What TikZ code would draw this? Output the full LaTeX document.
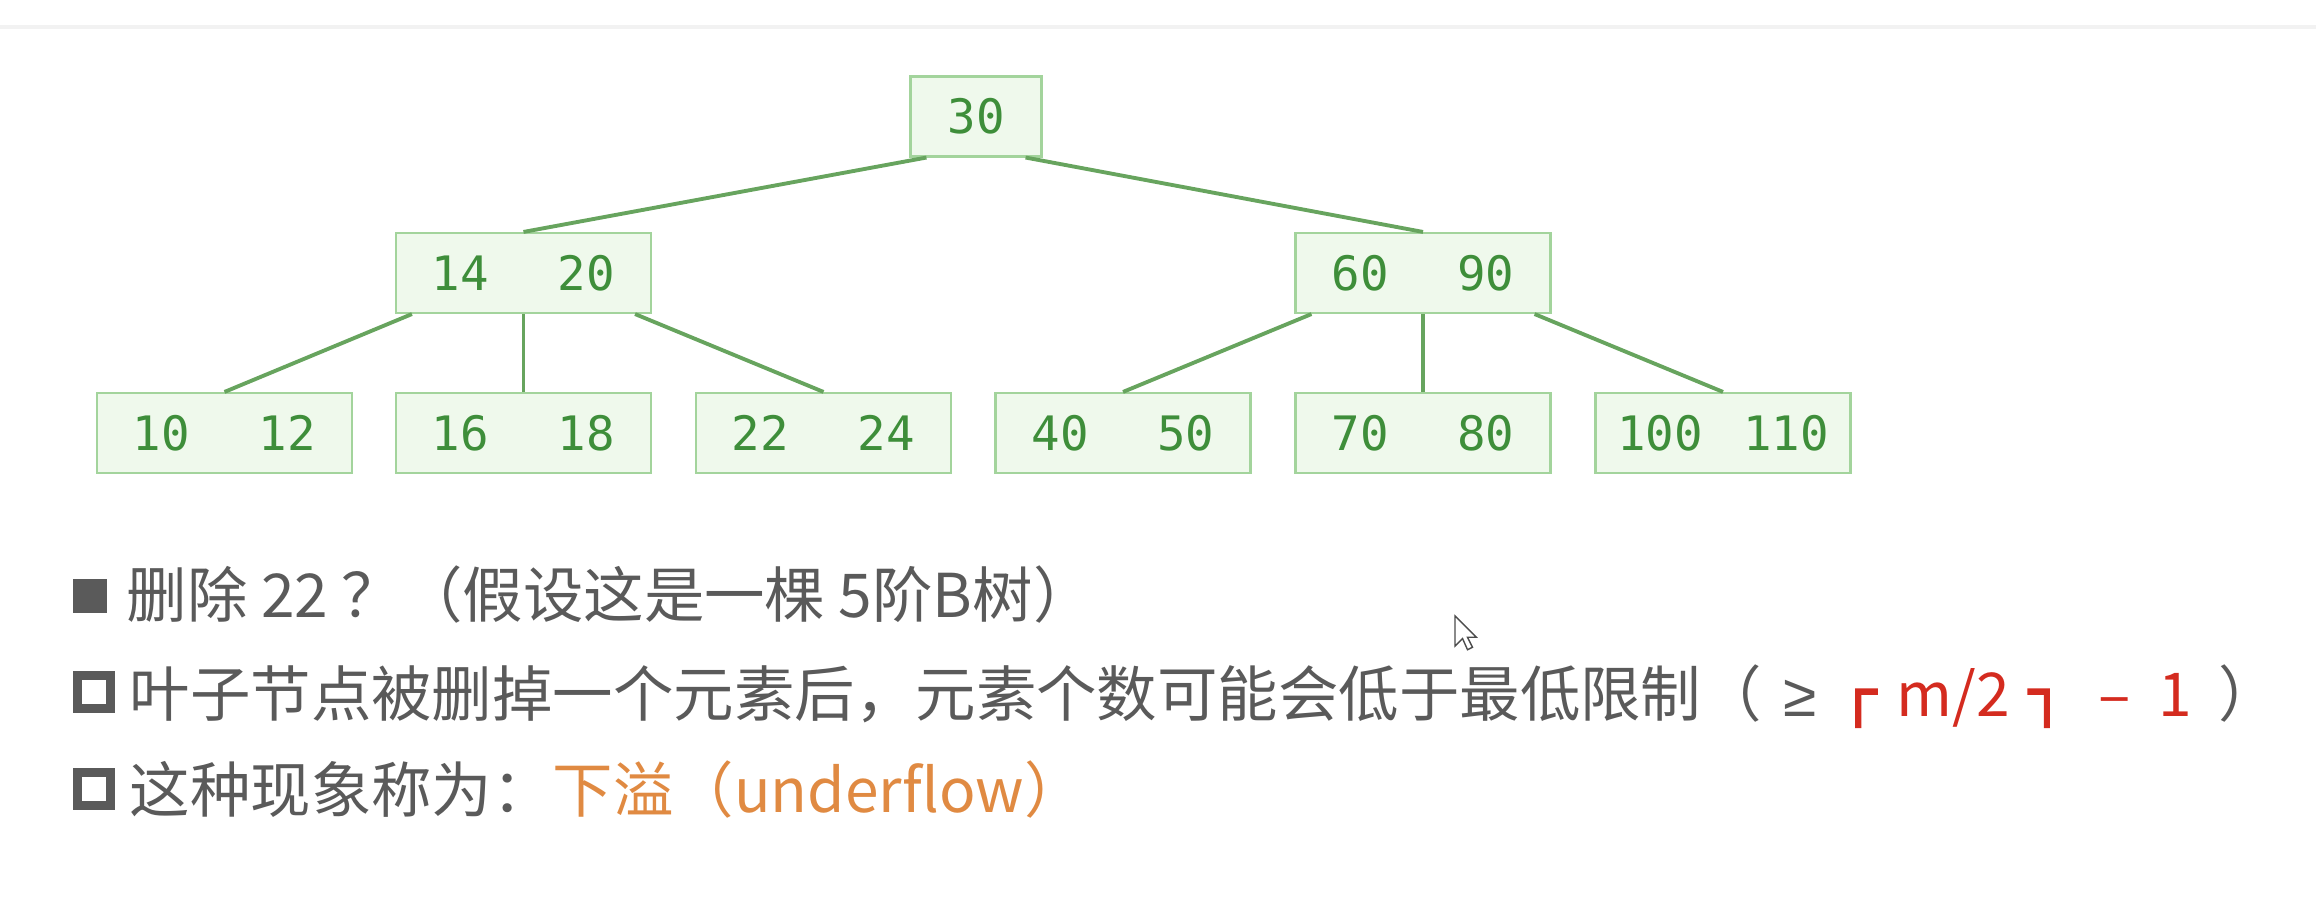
\documentclass[tikz,border=0pt]{standalone}
\usepackage{fontspec}
\setmainfont{Noto Sans CJK SC}
\newfontfamily\keyfont{DejaVu Sans Mono}
\newfontfamily\boxfont{DejaVu Sans Mono}[FakeBold=2.5]
\newfontfamily\symfont{Liberation Sans}
\usepackage{xcolor}
\usepackage{tikz}

\definecolor{boxfill}{HTML}{EFF9EC}
\definecolor{boxline}{HTML}{A3D49C}
\definecolor{keygreen}{HTML}{3E8E3A}
\definecolor{linkgreen}{HTML}{67A45E}
\definecolor{textgray}{HTML}{5A5A5A}
\definecolor{ceilred}{HTML}{D42B1F}
\definecolor{floworange}{HTML}{E08A42}

% two keys of a B-tree node, fixed pitch
\newcommand{\keypair}[2]{\makebox[1.26cm][l]{#1}#2}
% ceiling corner marks
\newcommand{\ceilmark}[1]{\raisebox{0.06em}{\boxfont #1}}

\begin{document}
\begin{tikzpicture}[
  bnode/.style={draw=boxline, fill=boxfill, line width=0.6pt, minimum height=0.8cm,
    inner sep=0pt, text=keygreen, font=\keyfont\fontsize{13.5pt}{15pt}\selectfont},
  rootbox/.style={bnode, minimum width=1.31cm},
  keybox/.style={bnode, minimum width=2.55cm},
  link/.style={draw=linkgreen, line width=1.1pt},
  textline/.style={anchor=base west, inner sep=0pt, text=textgray,
    font=\fontsize{17.2pt}{20pt}\selectfont},
  solidbullet/.style={fill=textgray, minimum size=0.34cm, inner sep=0pt},
  hollowbullet/.style={draw=textgray, line width=0.09cm, minimum size=0.33cm, inner sep=0pt}
]
\useasboundingbox (0,0) rectangle (23.16,9.12);

% faint header edge
\draw[black!5, line width=0.04cm] (0,8.85) -- (23.16,8.85);

% root
\node[rootbox] (n30) at (9.76,7.955) {30};

% second level
\node[keybox] (n1420) at (5.235,6.39) {\keypair{14}{20}};
\node[keybox] (n6090) at (14.23,6.39) {\keypair{60}{90}};

% leaves
\node[keybox] (n1012) at (2.245,4.79) {\keypair{10}{12}};
\node[keybox] (n1618) at (5.235,4.79) {\keypair{16}{18}};
\node[keybox] (n2224) at (8.235,4.79) {\keypair{22}{24}};
\node[keybox] (n4050) at (11.23,4.79) {\keypair{40}{50}};
\node[keybox] (n7080) at (14.23,4.79) {\keypair{70}{80}};
\node[keybox] (n100110) at (17.23,4.79) {\keypair{100}{110}};

% links
\draw[link] ([xshift=0.17cm]n30.south west) -- (n1420.north);
\draw[link] ([xshift=-0.17cm]n30.south east) -- (n6090.north);
\draw[link] ([xshift=0.17cm]n1420.south west) -- (n1012.north);
\draw[link] (n1420.south) -- (n1618.north);
\draw[link] ([xshift=-0.17cm]n1420.south east) -- (n2224.north);
\draw[link] ([xshift=0.17cm]n6090.south west) -- (n4050.north);
\draw[link] (n6090.south) -- (n7080.north);
\draw[link] ([xshift=-0.17cm]n6090.south east) -- (n100110.north);

% text lines
\node[solidbullet] (b1) at (0.90,3.165) {};
\node[textline] (t1) at (1.26,2.94) {删除 22 ？（假设这是一棵 5阶B树）};
\node[hollowbullet] (b2) at (0.94,2.205) {};
\node[textline] (t2) at (1.29,1.96) {叶子节点被删掉一个元素后，元素个数可能会低于最低限制（\hspace{0.22cm}{\symfont ≥}\hspace{0.23cm}%
  \textcolor{ceilred}{\ceilmark{┌}\hspace{0.20cm}m/2\hspace{0.19cm}\ceilmark{┐}\hspace{0.33cm}–\hspace{0.28cm}1}\hspace{0.26cm}）};
\node[hollowbullet] (b3) at (0.94,1.235) {};
\node[textline] (t3) at (1.29,1.00) {这种现象称为：\textcolor{floworange}{下溢（underflow）}};

% mouse pointer
\draw[black!70, fill=white, line width=0.4pt, shift={(14.55cm,2.96cm)}, x=0.0125cm, y=0.0125cm]
  (0,0) -- (0,-24) -- (6,-18) -- (10,-27) -- (14,-25) -- (10,-17) -- (17,-17) -- cycle;

\end{tikzpicture}
\end{document}
